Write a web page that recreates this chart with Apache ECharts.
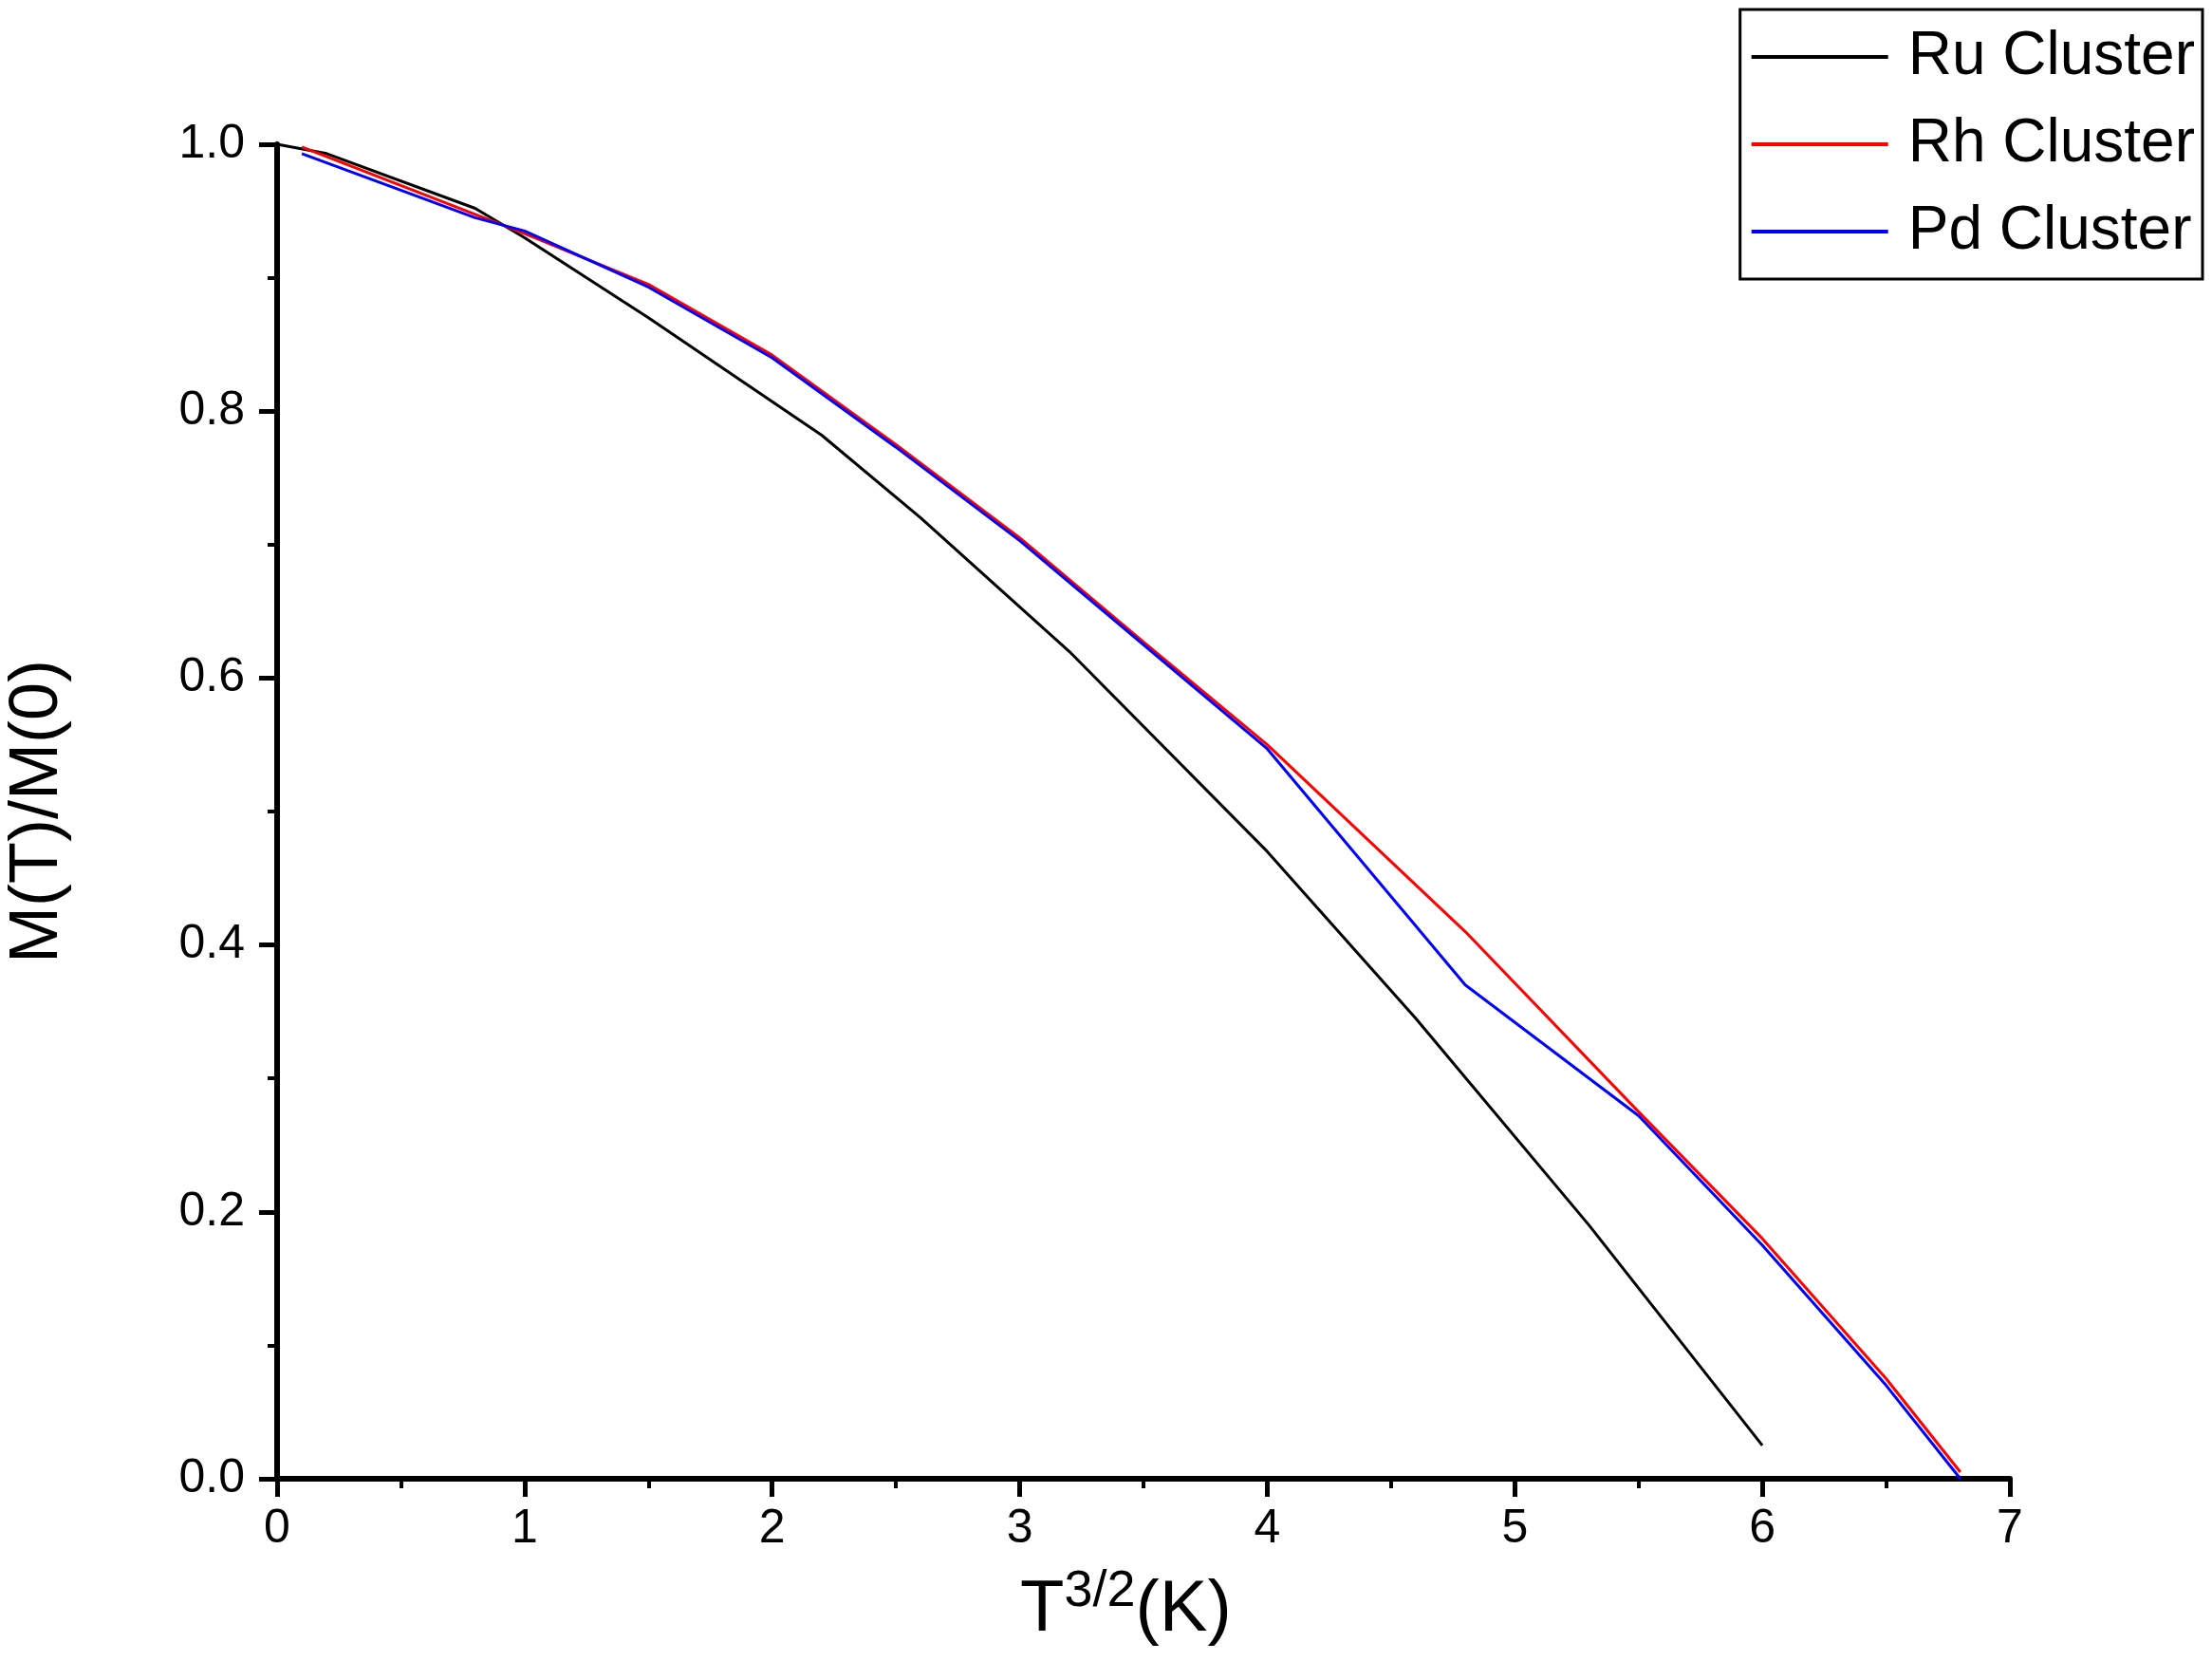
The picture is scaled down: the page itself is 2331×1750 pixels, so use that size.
<!DOCTYPE html>
<html><head><meta charset="utf-8">
<script src="https://cdn.jsdelivr.net/npm/echarts@6/dist/echarts.min.js"></script>
<style>html,body{margin:0;padding:0;background:#fff}#c{width:2331px;height:1750px}</style>
</head><body><div id="c"></div>
<script>
const ruX = [0, 0.2, 0.8, 1, 1.5, 2.2, 2.6, 3.2, 4, 4.6, 5.3, 6];
const ruY = [1.0, 0.993, 0.952, 0.93, 0.87, 0.782, 0.72, 0.62, 0.47, 0.345, 0.19, 0.025];
const rhX = [0.1, 1, 1.5, 2, 2.5, 3, 3.5, 4, 4.8, 5.5, 6, 6.5, 6.8];
const rhY = [0.998, 0.933, 0.895, 0.842, 0.775, 0.705, 0.627, 0.55, 0.41, 0.275, 0.18, 0.075, 0.005];
const pdX = [0.1, 0.8, 1, 1.5, 2, 2.5, 3, 3.5, 4, 4.8, 5.5, 6, 6.5, 6.8];
const pdY = [0.993, 0.945, 0.935, 0.893, 0.84, 0.773, 0.703, 0.625, 0.547, 0.37, 0.272, 0.175, 0.07, 0.0];
const zip = (a, b) => a.map((v, i) => [v, b[i]]);
const font = 'Arial, "Liberation Sans", sans-serif';
const chart = echarts.init(document.getElementById('c'));
const axisCommon = {
  axisLine: {show: true, lineStyle: {color: '#000', width: 6}},
  axisTick: {show: true, length: 19, lineStyle: {color: '#000', width: 5}},
  minorTick: {show: true, splitNumber: 2, length: 10, lineStyle: {color: '#000', width: 4}},
  splitLine: {show: false},
  axisLabel: {color: '#000', fontSize: 50, fontFamily: font, margin: 28}
};
chart.setOption({
  animation: false,
  backgroundColor: '#fff',
  grid: {left: 292, right: 213, top: 152, bottom: 192},
  xAxis: Object.assign({type: 'value', min: 0, max: 7, interval: 1}, axisCommon),
  yAxis: Object.assign({}, axisCommon, {type: 'value', min: 0, max: 1, interval: 0.2,
    axisLabel: {color: '#000', fontSize: 50, fontFamily: font, margin: 34, formatter: v => v.toFixed(1)}}),
  legend: {
    orient: 'vertical', right: 10, top: 10, padding: [18, 8, 18, 12],
    borderColor: '#000', borderWidth: 3, itemWidth: 144, itemHeight: 4, itemGap: 28,
    textStyle: {fontSize: 64, fontFamily: font, color: '#000', padding: [0, 0, 0, 16]},
    icon: 'rect',
    data: ['Ru Cluster', 'Rh Cluster', 'Pd Cluster']
  },
  graphic: [
    {type: 'text', left: 1075, top: 1650, style: {rich: {
      a: {fontSize: 76, fontFamily: font, fill: '#000'},
      s: {fontSize: 54, fontFamily: font, fill: '#000', verticalAlign: 'top', padding: [0, 0, 40, 0]}
    }, text: '{a|T}{s|3/2}{a|(K)}'}},
    {type: 'text', x: 40, y: 855, rotation: Math.PI / 2, style: {text: 'M(T)/M(0)', fontSize: 72, fontFamily: font, fill: '#000', align: 'center', verticalAlign: 'middle'}}
  ],
  series: [
    {name: 'Ru Cluster', type: 'line', data: zip(ruX, ruY), showSymbol: false, lineStyle: {color: '#000', width: 3}, itemStyle: {color: '#000'}},
    {name: 'Rh Cluster', type: 'line', data: zip(rhX, rhY), showSymbol: false, lineStyle: {color: '#ff0000', width: 3}, itemStyle: {color: '#ff0000'}},
    {name: 'Pd Cluster', type: 'line', data: zip(pdX, pdY), showSymbol: false, lineStyle: {color: '#0000ff', width: 3}, itemStyle: {color: '#0000ff'}}
  ]
});
</script></body></html>
